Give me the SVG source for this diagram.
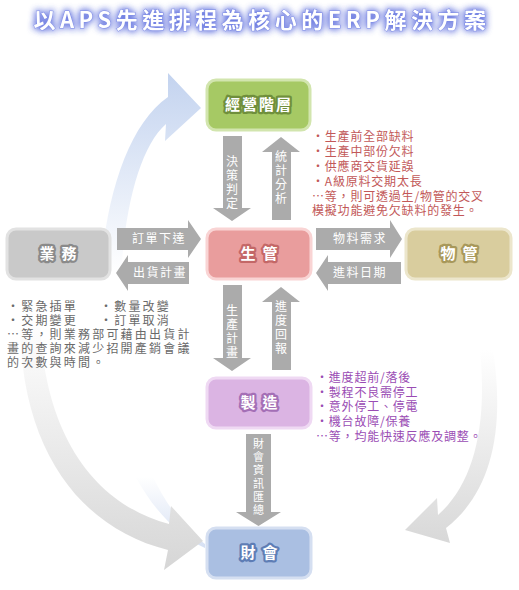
<svg xmlns="http://www.w3.org/2000/svg" width="519" height="590" viewBox="0 0 519 590">
<defs>
<style>
.t{font-family:"Noto Sans CJK TC","Noto Sans CJK SC",sans-serif}
.lbl{font-size:15px;font-weight:bold;fill:#fff;paint-order:stroke;stroke-width:4.5px;stroke-linejoin:round;text-anchor:middle}
.al{font-size:12px;fill:#fff;letter-spacing:1.5px;text-anchor:middle}
.vl{font-size:12px;fill:#fff;text-anchor:middle}
.vs{font-size:11px;fill:#fff;text-anchor:middle}
.arr{fill:#ABABAB}
.nr{font-size:12px;fill:#C25858;letter-spacing:0.8px}
.np{font-size:12px;fill:#9A4CB4;letter-spacing:0.8px}
.ng{font-size:12px;fill:#6A6A6A;letter-spacing:2.2px}
</style>
<filter id="glow" x="-10%" y="-60%" width="120%" height="220%">
<feGaussianBlur in="SourceAlpha" stdDeviation="3.5" result="b"/>
<feFlood flood-color="#6C7BE0"/>
<feComposite in2="b" operator="in" result="g"/>
<feMerge><feMergeNode in="g"/><feMergeNode in="g"/><feMergeNode in="SourceGraphic"/></feMerge>
</filter>
<linearGradient id="gBlue" x1="0" y1="0" x2="0" y2="1">
<stop offset="0" stop-color="#C3D3EF"/>
<stop offset="0.42" stop-color="#FFFFFF"/>
<stop offset="0.85" stop-color="#FFFFFF"/>
<stop offset="1" stop-color="#D6E0F3"/>
</linearGradient>
<linearGradient id="gGrayL" x1="0" y1="0" x2="0" y2="1">
<stop offset="0" stop-color="#FFFFFF"/>
<stop offset="1" stop-color="#D6D6D6"/>
</linearGradient>
<linearGradient id="gGrayR" x1="0" y1="0" x2="0" y2="1">
<stop offset="0" stop-color="#FFFFFF"/>
<stop offset="1" stop-color="#D8D8D8"/>
</linearGradient>
</defs>
<rect width="519" height="590" fill="#fff"/>

<g id="title">
<text class="t" x="262" y="28" font-size="22" font-weight="bold" letter-spacing="4.5" text-anchor="middle" fill="#fff" stroke="#7D8BE6" stroke-width="1" paint-order="stroke" filter="url(#glow)">以APS先進排程為核心的ERP解決方案</text>
</g>

<g id="curves">
<path d="M205,548 C150,522 104,445 100,330 C96,230 120,130 168,97 L168,73 L201,108 L165,141 L166,124 C136,150 118,230 120,330 C123,430 160,512 205,544 Z" fill="url(#gBlue)"/>
<path d="M20,320 C20,450 80,528 168,550 L164,570 L203,541 L171,506 L169,524 C98,505 44,440 40,320 Z" fill="url(#gGrayL)"/>
<path d="M493,350 C505,430 492,492 446,528 L450,543 L405,530 L437,498 L438,515 C472,485 488,430 480,350 Z" fill="url(#gGrayR)"/>
</g>

<g id="connectors">
<g id="c-decision">
<path class="arr" d="M223,136 H242 V208 H251 L232,221 L213,208 H223 Z"/>
<text class="t vl"><tspan x="232" y="166">決</tspan><tspan x="232" y="180">策</tspan><tspan x="232" y="194">判</tspan><tspan x="232" y="208">定</tspan></text>
</g>
<g id="c-stats">
<path class="arr" d="M281,137 L300,152 H291 V220 H272 V152 H262 Z"/>
<text class="t vl"><tspan x="281" y="161">統</tspan><tspan x="281" y="175">計</tspan><tspan x="281" y="189">分</tspan><tspan x="281" y="203">析</tspan></text>
</g>
<g id="c-order">
<path class="arr" d="M117,228 H188 V220 L201,239 L188,258 V250 H117 Z"/>
<text class="t al" x="159" y="243">訂單下達</text>
</g>
<g id="c-ship">
<path class="arr" d="M189,262 H128 V255 L116,273 L128,291 V284 H189 Z"/>
<text class="t al" x="160" y="277">出貨計畫</text>
</g>
<g id="c-material">
<path class="arr" d="M316,228 H390 V220 L402,239 L390,258 V250 H316 Z"/>
<text class="t al" x="360" y="243">物料需求</text>
</g>
<g id="c-incoming">
<path class="arr" d="M401,262 H328 V255 L316,273 L328,291 V284 H401 Z"/>
<text class="t al" x="360" y="277">進料日期</text>
</g>
<g id="c-plan">
<path class="arr" d="M223,285 H242 V358 H251 L232,371 L213,358 H223 Z"/>
<text class="t vl"><tspan x="232" y="315">生</tspan><tspan x="232" y="329">產</tspan><tspan x="232" y="343">計</tspan><tspan x="232" y="357">畫</tspan></text>
</g>
<g id="c-progress">
<path class="arr" d="M281,287 L300,302 H291 V370 H272 V302 H262 Z"/>
<text class="t vl"><tspan x="281" y="311">進</tspan><tspan x="281" y="325">度</tspan><tspan x="281" y="339">回</tspan><tspan x="281" y="353">報</tspan></text>
</g>
<g id="c-finance">
<path class="arr" d="M246,434 H271 V512 H281 L258.5,526 L236,512 H246 Z"/>
<text class="t vs"><tspan x="258.5" y="448">財</tspan><tspan x="258.5" y="461.2">會</tspan><tspan x="258.5" y="474.4">資</tspan><tspan x="258.5" y="487.6">訊</tspan><tspan x="258.5" y="500.8">匯</tspan><tspan x="258.5" y="514">總</tspan></text>
</g>
</g>

<g id="mgmt">
<rect x="207" y="80" width="103" height="50" rx="9" fill="#A6C964" stroke="#D2E5AE" stroke-width="3"/>
<text class="t lbl" x="259" y="110" stroke="#6F8F3C" letter-spacing="2">經營階層</text>
</g>
<g id="prod">
<rect x="207" y="229" width="104" height="50" rx="9" fill="#E99D9D" stroke="#F9D4D4" stroke-width="3"/>
<text class="t lbl" x="259" y="259" stroke="#C46767" xml:space="preserve">生  管</text>
</g>
<g id="sales">
<rect x="7" y="229" width="103" height="50" rx="9" fill="#C9C9C9" stroke="#E2E2E2" stroke-width="3"/>
<text class="t lbl" x="58" y="259" stroke="#8A8A8A" xml:space="preserve">業  務</text>
</g>
<g id="material">
<rect x="406" y="229" width="105" height="50" rx="9" fill="#D9CD9E" stroke="#ECE6CC" stroke-width="3"/>
<text class="t lbl" x="459" y="259" stroke="#A8985A" xml:space="preserve">物  管</text>
</g>
<g id="mfg">
<rect x="207" y="378" width="104" height="50" rx="9" fill="#DBB4E3" stroke="#EFD9F3" stroke-width="3"/>
<text class="t lbl" x="259" y="408" stroke="#A46FB6" xml:space="preserve">製  造</text>
</g>
<g id="fin">
<rect x="207" y="528" width="104" height="50" rx="9" fill="#AABFE2" stroke="#D5DFF1" stroke-width="3"/>
<text class="t lbl" x="259" y="558" stroke="#5E7DB5" xml:space="preserve">財  會</text>
</g>

<g id="note-prod" class="t nr">
<text x="312" y="141">・生產前全部缺料</text>
<text x="312" y="156">・生產中部份欠料</text>
<text x="312" y="171">・供應商交貨延誤</text>
<text x="312" y="186">・A級原料交期太長</text>
<text x="312" y="201">…等，則可透過生/物管的交叉</text>
<text x="312" y="215">模擬功能避免欠缺料的發生。</text>
</g>
<g id="note-sales" class="t ng">
<text x="7" y="311">・緊急插單</text>
<text x="100" y="311">・數量改變</text>
<text x="7" y="325">・交期變更</text>
<text x="100" y="325">・訂單取消</text>
<text x="7" y="339">…等，則業務部可藉由出貨計</text>
<text x="7" y="353">畫的查詢來減少招開產銷會議</text>
<text x="7" y="367">的次數與時間。</text>
</g>
<g id="note-mfg" class="t np">
<text x="316" y="382">・進度超前/落後</text>
<text x="316" y="397">・製程不良需停工</text>
<text x="316" y="411">・意外停工、停電</text>
<text x="316" y="426">・機台故障/保養</text>
<text x="316" y="441">…等，均能快速反應及調整。</text>
</g>
</svg>
